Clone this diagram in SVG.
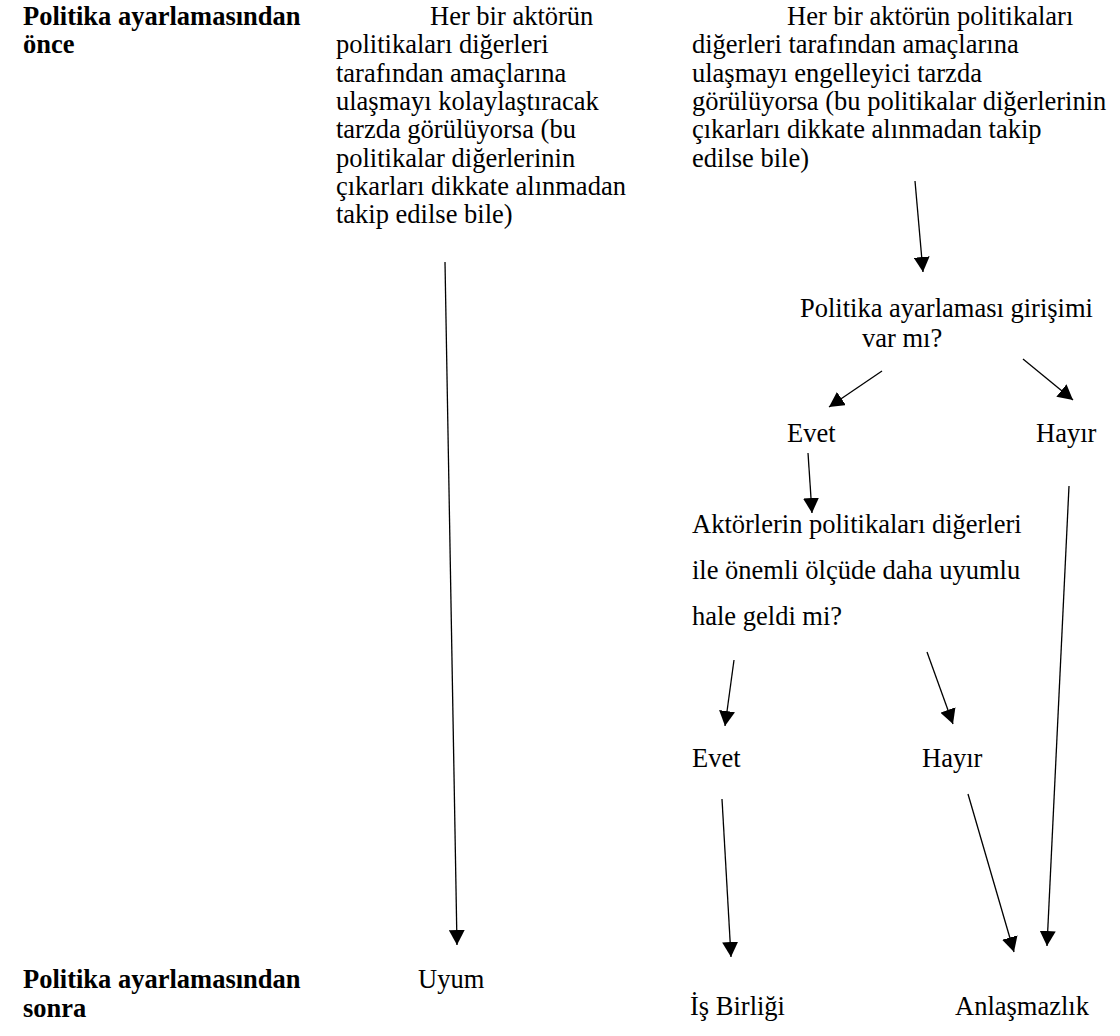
<svg xmlns="http://www.w3.org/2000/svg" width="1120" height="1036" viewBox="0 0 1120 1036">
<style>
text{font-family:"Liberation Serif","Times New Roman",serif;font-size:26.5px;fill:#000}
.b{font-weight:bold}
.c line{stroke:#000;stroke-width:1.3;marker-end:url(#ah)}
</style>
<defs>
<marker id="ah" markerUnits="userSpaceOnUse" markerWidth="16" markerHeight="16" refX="15" refY="8" orient="auto" viewBox="0 0 16 16">
<path d="M0,0 L15,8 L0,16 z" fill="#000"/>
</marker>
</defs>
<rect width="1120" height="1036" fill="#fff"/>
<g id="label-before"><text class="b" x="23" y="25">Politika ayarlamasından</text><text class="b" x="23" y="53">önce</text></g>
<g id="label-after"><text class="b" x="23" y="988">Politika ayarlamasından</text><text class="b" x="23" y="1017">sonra</text></g>
<g id="node-facilitating">
<text x="430" y="25">Her bir aktörün</text>
<text x="336" y="53">politikaları diğerleri</text>
<text x="336" y="82">tarafından amaçlarına</text>
<text x="336" y="110">ulaşmayı kolaylaştıracak</text>
<text x="336" y="138">tarzda görülüyorsa (bu</text>
<text x="336" y="167">politikalar diğerlerinin</text>
<text x="336" y="195">çıkarları dikkate alınmadan</text>
<text x="336" y="223">takip edilse bile)</text>
</g>
<g id="node-hindering">
<text x="787" y="25">Her bir aktörün politikaları</text>
<text x="692" y="53">diğerleri tarafından amaçlarına</text>
<text x="692" y="82">ulaşmayı engelleyici tarzda</text>
<text x="692" y="110">görülüyorsa (bu politikalar diğerlerinin</text>
<text x="692" y="138">çıkarları dikkate alınmadan takip</text>
<text x="692" y="167">edilse bile)</text>
</g>
<g id="node-attempt"><text x="800" y="317">Politika ayarlaması girişimi</text><text x="862" y="347">var mı?</text></g>
<g id="node-evet1"><text x="787" y="442">Evet</text></g>
<g id="node-hayir1"><text x="1036" y="442">Hayır</text></g>
<g id="node-compatible"><text x="692" y="533">Aktörlerin politikaları diğerleri</text><text x="692" y="579">ile önemli ölçüde daha uyumlu</text><text x="692" y="625">hale geldi mi?</text></g>
<g id="node-evet2"><text x="692" y="767">Evet</text></g>
<g id="node-hayir2"><text x="922" y="767">Hayır</text></g>
<g id="node-uyum"><text x="418" y="988">Uyum</text></g>
<g id="node-isbirligi"><text x="690" y="1015">İş Birliği</text></g>
<g id="node-anlasmazlik"><text x="955" y="1015">Anlaşmazlık</text></g>
<g id="connectors" class="c">
<line x1="445" y1="262" x2="457" y2="945"/>
<line x1="915" y1="181" x2="923" y2="272"/>
<line x1="882" y1="371" x2="829" y2="407"/>
<line x1="1023" y1="359" x2="1073" y2="400"/>
<line x1="808" y1="453" x2="812" y2="513"/>
<line x1="734" y1="660" x2="725" y2="726"/>
<line x1="927" y1="652" x2="953" y2="724"/>
<line x1="1069" y1="486" x2="1047" y2="946"/>
<line x1="722" y1="799" x2="731" y2="957"/>
<line x1="968" y1="794" x2="1014" y2="952"/>
</g>
</svg>
